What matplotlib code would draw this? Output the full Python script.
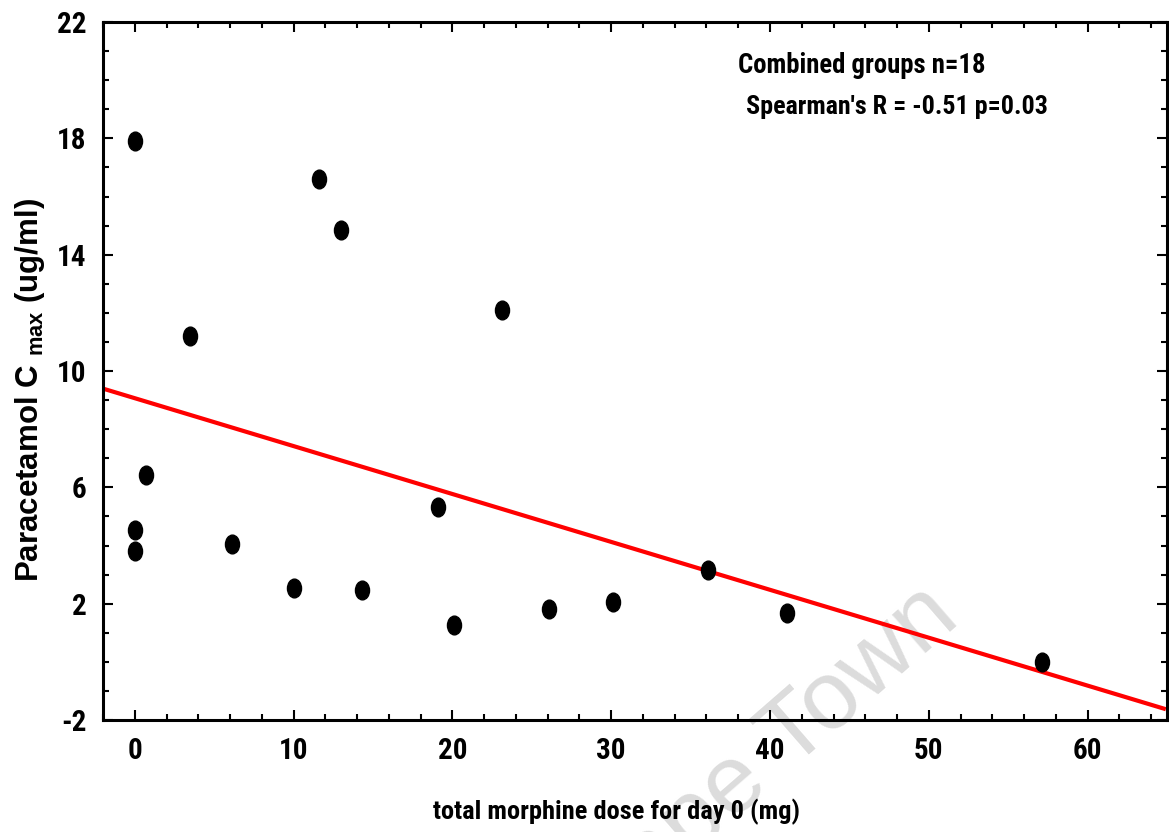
import matplotlib
matplotlib.use("Agg")
import matplotlib.pyplot as plt
import numpy as np
from matplotlib import font_manager
from matplotlib.markers import MarkerStyle
from matplotlib.transforms import Affine2D
from matplotlib.ticker import MultipleLocator

# data
morphine_dose = [0, 11.6, 13.0, 23.1, 3.5, 0.7, 0, 0, 6.1,
                 19.1, 10.0, 14.3, 20.1, 26.1, 30.1, 36.1, 41.1, 57.1]
cmax = [17.9, 16.6, 14.85, 12.1, 11.2, 6.42, 4.53, 3.81, 4.05,
        5.32, 2.54, 2.47, 1.27, 1.82, 2.06, 3.16, 1.68, 0.0]
x_ticks = [0, 10, 20, 30, 40, 50, 60]
y_ticks = [-2, 2, 6, 10, 14, 18, 22]

plt.rcParams['axes.unicode_minus'] = False

# look for a condensed face, otherwise use Arial-like Liberation Sans a bit smaller
narrow, k = 'Liberation Sans', 0.88
for fam in ['Liberation Sans Narrow', 'Roboto Condensed', 'Open Sans Condensed']:
    try:
        font_manager.findfont(font_manager.FontProperties(family=fam, weight='bold'),
                              fallback_to_default=False)
        narrow, k = fam, 1.0
        break
    except Exception:
        pass
wide = 'Liberation Sans'

fig = plt.figure(figsize=(11.69, 8.32), dpi=100)
ax = fig.add_axes([103/1169, 1 - 720/832, (1167-103)/1169, (720-22)/832])

# faint watermark, behind everything
fig.text(962/1169, 1 - 622/832, 'Cape Town', color='#dcdcdc', fontsize=70,
         family=wide, rotation=41, rotation_mode='anchor',
         ha='right', va='baseline', zorder=-1)
ax.set_facecolor('none')

# regression line
slope, intercept = np.polyfit(morphine_dose, cmax, 1)
xl = np.array([-2, 64.8])
ax.plot(xl, intercept + slope*xl, color='#ff0000', lw=3, zorder=2)

oval = MarkerStyle('o', transform=Affine2D().scale(0.75, 1.0))
ax.plot(morphine_dose, cmax, linestyle='none', marker=oval, markersize=13.5,
        color='black', zorder=3)

ax.set_xlim(-2, 65)
ax.set_ylim(-2, 22)
ax.set_xticks(x_ticks)
ax.set_yticks(y_ticks)
ax.xaxis.set_minor_locator(MultipleLocator(2))
ax.yaxis.set_minor_locator(MultipleLocator(1))
ax.tick_params(which='both', direction='in', top=True, right=True, width=1.5)
ax.tick_params(which='major', length=7, pad=12)
ax.tick_params(which='minor', length=4)
for s in ax.spines.values():
    s.set_linewidth(2.2)

for lab in ax.get_xticklabels() + ax.get_yticklabels():
    lab.set_family(narrow)
    lab.set_fontweight('bold')
    lab.set_fontsize(21*k)

ax.set_xlabel('total morphine dose for day 0 (mg)', family=narrow,
              fontweight='bold', fontsize=19*k)
ax.xaxis.set_label_coords(0.483, -0.113)
ax.set_ylabel(r'Paracetamol C $_{\mathregular{max}}$ (ug/ml)', family=wide,
              fontweight='bold', fontsize=22.5)
ax.yaxis.set_label_coords(-0.053, 0.473)

ax.text(0.597, 0.938, 'Combined groups n=18', transform=ax.transAxes,
        family=narrow, fontweight='bold', fontsize=19.3*k, va='center')
ax.text(0.604, 0.878, "Spearman's R = -0.51 p=0.03", transform=ax.transAxes,
        family=narrow, fontweight='bold', fontsize=18.7*k, va='center')

fig.savefig('out.png', dpi=100)
